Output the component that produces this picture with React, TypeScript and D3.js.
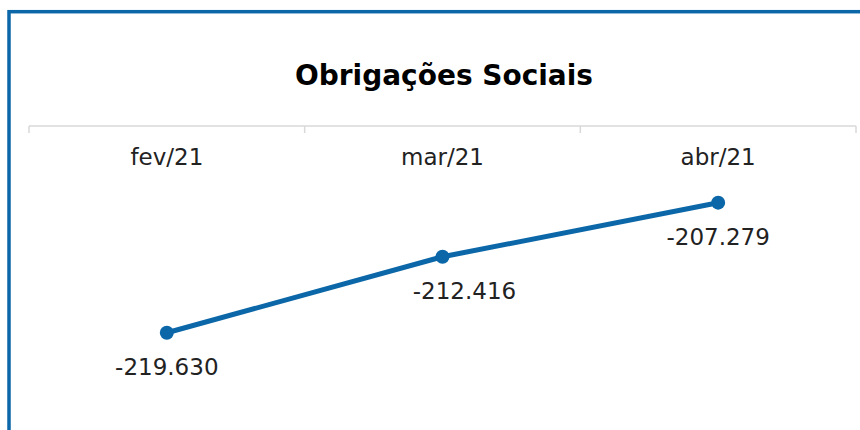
import React, { useEffect, useRef } from 'react';
import * as d3 from 'd3';

const months = ['fev/21', 'mar/21', 'abr/21'];
const values = [-219.63, -212.416, -207.279];
const title = 'Obrigações Sociais';

const W = 860;
const H = 430;
const BLUE = '#0b67a8';
const FONT = "'DejaVu Sans', sans-serif";

// nudge of the middle label (the reference sets it a bit to the right)
const labelDx = [0, 22, 0];

// pt-BR style: dot as thousands separator, plain hyphen for minus
const fmt = (v: number) =>
    d3.format('.3f')(v).replace('\u2212', '-');

const App: React.FC = () => {
    const svgRef = useRef<SVGSVGElement | null>(null);

    useEffect(() => {
        if (!svgRef.current) return;
        const svg = d3.select(svgRef.current);
        svg.selectAll('*').remove();

        const x = d3.scaleBand<string>().domain(months).range([29, 856]).padding(0);
        const y = d3.scaleLinear().domain([-230, -200]).range([442, 126]);
        const cx = (m: string) => x(m)! + x.bandwidth() / 2;

        // frame (only top and left edges fall inside the window)
        svg.append('rect')
            .attr('x', 9)
            .attr('y', 11.7)
            .attr('width', W + 20)
            .attr('height', H + 20)
            .attr('fill', '#fff')
            .attr('stroke', BLUE)
            .attr('stroke-width', 3.5);

        svg.append('text')
            .attr('x', 444)
            .attr('y', 85)
            .attr('text-anchor', 'middle')
            .attr('font-family', FONT)
            .attr('font-weight', 'bold')
            .attr('font-size', 29)
            .attr('textLength', 298)
            .attr('lengthAdjust', 'spacingAndGlyphs')
            .attr('fill', '#000')
            .text(title);

        // category axis along the top
        const axisY = y(-200);
        const g = svg.append('g');
        g.append('line')
            .attr('x1', x.range()[0])
            .attr('x2', x.range()[1])
            .attr('y1', axisY)
            .attr('y2', axisY)
            .attr('stroke', '#d9d9d9')
            .attr('stroke-width', 1.5);
        const bounds = [...months.map((m) => x(m)!), x.range()[1]];
        g.selectAll('line.tick')
            .data(bounds)
            .join('line')
            .attr('class', 'tick')
            .attr('x1', (d) => d)
            .attr('x2', (d) => d)
            .attr('y1', axisY)
            .attr('y2', axisY + 7)
            .attr('stroke', '#d9d9d9')
            .attr('stroke-width', 1.5);
        g.selectAll('text')
            .data(months)
            .join('text')
            .attr('x', (d) => cx(d))
            .attr('y', 165)
            .attr('text-anchor', 'middle')
            .attr('font-family', FONT)
            .attr('font-size', 23)
            .attr('fill', '#222')
            .text((d) => d);

        const pts = months.map((m, i) => ({ m, v: values[i], i }));

        const line = d3
            .line<{ m: string; v: number }>()
            .x((d) => cx(d.m))
            .y((d) => y(d.v));

        svg.append('path')
            .datum(pts)
            .attr('d', line)
            .attr('fill', 'none')
            .attr('stroke', BLUE)
            .attr('stroke-width', 5)
            .attr('stroke-linejoin', 'round');

        svg.selectAll('circle.pt')
            .data(pts)
            .join('circle')
            .attr('class', 'pt')
            .attr('cx', (d) => cx(d.m))
            .attr('cy', (d) => y(d.v))
            .attr('r', 7)
            .attr('fill', BLUE);

        svg.selectAll('text.val')
            .data(pts)
            .join('text')
            .attr('class', 'val')
            .attr('x', (d) => cx(d.m) + labelDx[d.i])
            .attr('y', (d) => y(d.v) + 42)
            .attr('text-anchor', 'middle')
            .attr('font-family', FONT)
            .attr('font-size', 23)
            .attr('fill', '#222')
            .text((d) => fmt(d.v));
    }, []);

    return (
        <svg
            ref={svgRef}
            width={W}
            height={H}
            style={{ position: 'absolute', left: 0, top: 0, background: '#fff' }}
        />
    );
};

export default App;
